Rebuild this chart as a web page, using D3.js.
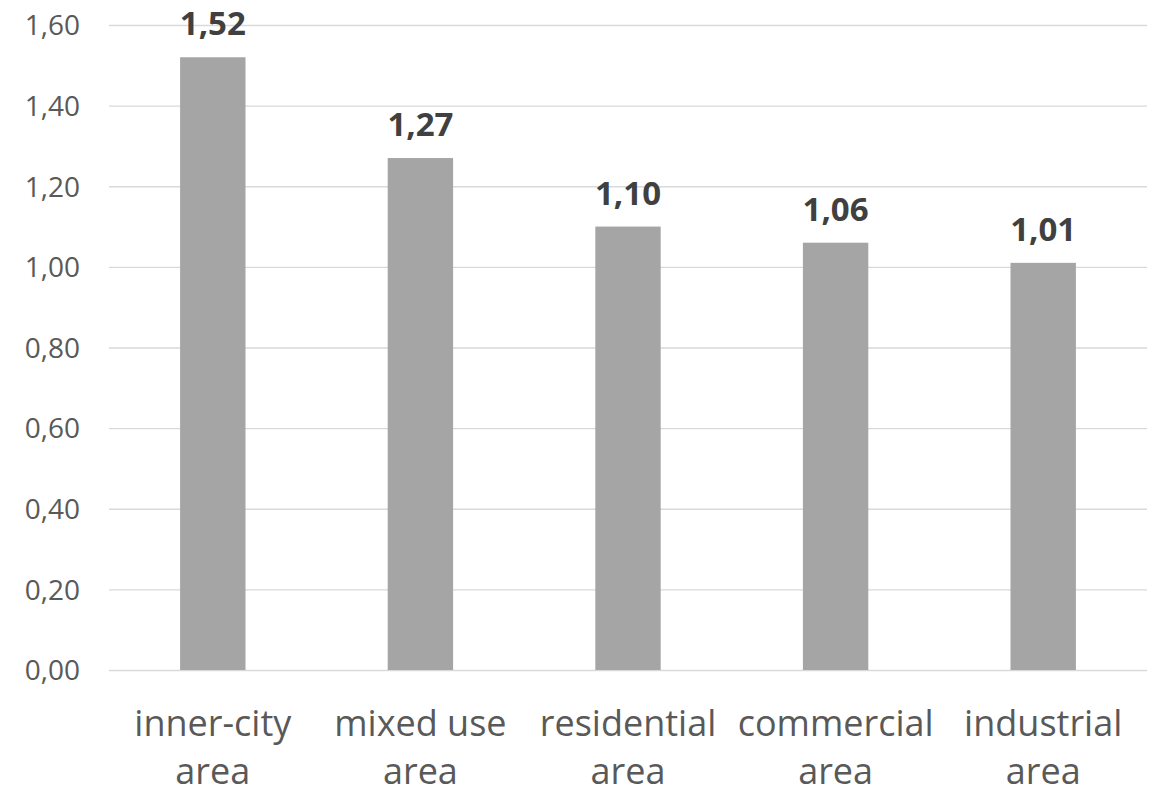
<!DOCTYPE html>
<html>
<head>
<meta charset="utf-8">
<script src="https://cdn.jsdelivr.net/npm/d3@7"></script>
<style>
  body { margin: 0; background: #fff; }
  svg { display: block; font-family: "Open Sans", "Noto Sans", sans-serif; }
</style>
</head>
<body>
<div id="chart"></div>
<script>
const categories = [["inner-city", "area"], ["mixed use", "area"], ["residential", "area"], ["commercial", "area"], ["industrial", "area"]];
const values = [1.52, 1.27, 1.10, 1.06, 1.01];
const yTicks = [0, 0.2, 0.4, 0.6, 0.8, 1.0, 1.2, 1.4, 1.6];

(() => {
  const width = 1153, height = 794;
  const margin = { top: 25, right: 6, bottom: 124, left: 109 };
  const innerW = width - margin.left - margin.right;
  const innerH = height - margin.top - margin.bottom;

  const fmt = v => v.toFixed(2).replace(".", ",");

  const svg = d3.select("#chart").append("svg")
    .attr("width", width).attr("height", height);

  const g = svg.append("g").attr("transform", `translate(${margin.left},${margin.top})`);

  const x = d3.scaleBand()
    .domain(d3.range(values.length))
    .range([0, innerW])
    .paddingInner(0.685)
    .paddingOuter(0.3425);

  const y = d3.scaleLinear().domain([0, 1.6]).range([innerH, 0]);

  // grid
  g.append("g")
    .call(d3.axisLeft(y).tickValues(yTicks).tickSize(-innerW).tickFormat(""))
    .call(s => s.select(".domain").remove())
    .call(s => s.selectAll("line").attr("stroke", "#d9d9d9").attr("stroke-width", 1.3));

  // y tick labels
  g.append("g")
    .attr("transform", "translate(-26,0)")
    .call(d3.axisLeft(y).tickValues(yTicks).tickSize(0).tickFormat(fmt))
    .call(s => s.select(".domain").remove())
    .call(s => s.selectAll("text")
      .attr("fill", "#595959")
      .style("font-family", "'Open Sans', sans-serif")
      .style("font-size", "28px")
      .attr("dy", "0.35em"));

  // bars
  g.selectAll("rect.bar")
    .data(values)
    .enter()
    .append("rect")
    .attr("class", "bar")
    .attr("x", (d, i) => x(i))
    .attr("y", d => y(d))
    .attr("width", x.bandwidth())
    .attr("height", d => innerH - y(d))
    .attr("fill", "#a5a5a5");

  // value labels
  g.selectAll("text.val")
    .data(values)
    .enter()
    .append("text")
    .attr("class", "val")
    .attr("x", (d, i) => x(i) + x.bandwidth() / 2)
    .attr("y", d => y(d) - 22)
    .attr("text-anchor", "middle")
    .attr("fill", "#404040")
    .style("font-size", "33px")
    .style("font-weight", "bold")
    .text(fmt);

  // x labels
  const xl = g.selectAll("text.cat")
    .data(categories)
    .enter()
    .append("text")
    .attr("class", "cat")
    .attr("text-anchor", "middle")
    .attr("fill", "#595959")
    .style("font-size", "36px")
    .attr("transform", (d, i) => `translate(${x(i) + x.bandwidth() / 2},${innerH + 66})`);

  xl.selectAll("tspan")
    .data(d => d)
    .enter()
    .append("tspan")
    .attr("x", 0)
    .attr("dy", (d, j) => j === 0 ? 0 : 48)
    .text(d => d);
})();
</script>
</body>
</html>
